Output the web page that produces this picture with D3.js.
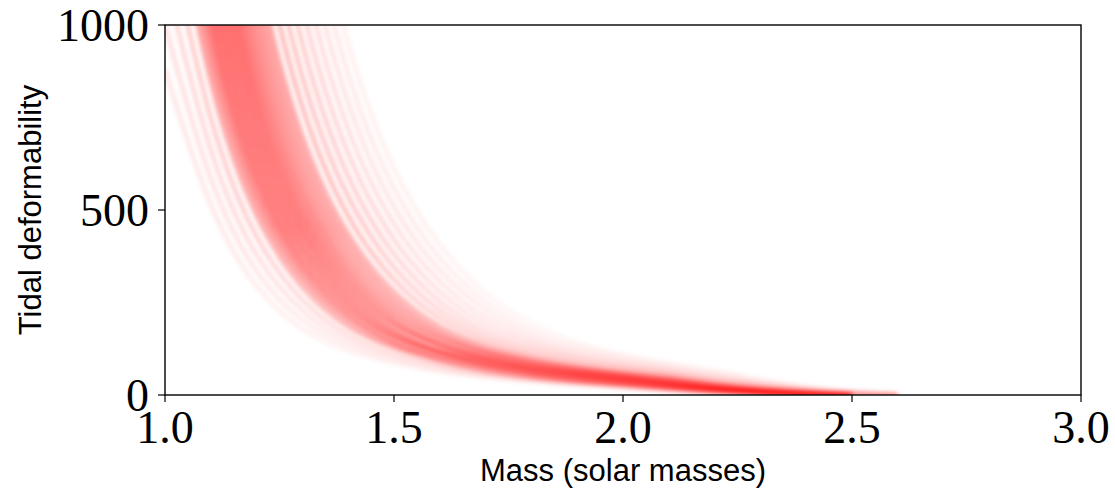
<!DOCTYPE html>
<html>
<head>
<meta charset="utf-8">
<title>tidal deformability</title>
<script src="https://cdnjs.cloudflare.com/ajax/libs/d3/7.8.5/d3.min.js"></script>
<style>
  body { margin: 0; background: #fff; }
  .tick-label { font-family: "Liberation Serif", "DejaVu Serif", serif; font-size: 46px; fill: #000; }
  .axis-title { font-family: "Liberation Sans", "DejaVu Sans", sans-serif; font-size: 31px; fill: #000; }
</style>
</head>
<body>
<svg width="1115" height="501"></svg>
<script>

var masses = [1.0, 1.1, 1.2, 1.3, 1.4, 1.5, 1.6, 1.7, 1.8, 1.9, 2.0, 2.1, 2.2, 2.3, 2.4, 2.5, 2.6];

// tidal deformability of each sampled curve, same order as masses (null = curve has ended)
var curves = [
  [880, 483, 279, 169, 117, 84.1, 61.7, 46.1, 35.0, 27.0, 19.2, 11.0, 5.5, 1.7, 0, null, null],
  [1000, 549, 317, 192, 129, 92.6, 68.0, 50.8, 38.6, 29.8, 21.8, 12.7, 6.4, 2.2, 0, null, null],
  [1133, 621, 359, 217, 142, 101.8, 74.7, 55.9, 42.4, 32.7, 24.8, 14.6, 7.6, 2.8, 0, null, null],
  [1280, 702, 406, 245, 155.7, 111.8, 82.0, 61.3, 46.6, 35.9, 28.0, 16.6, 8.9, 3.6, 0, null, null],
  [1444, 792, 458, 276, 173, 127, 96.8, 75.1, 59.0, 47.0, 37.9, 24.0, 13.4, 5.9, 0.5, 0, null],
  [1532, 840, 486, 293, 184, 124.4, 87.8, 63.3, 46.5, 34.7, 26.3, 16.0, 8.5, 3.6, 0.4, 0, null],
  [1624, 891, 515, 311, 195, 136.2, 102.6, 78.5, 61.1, 48.1, 38.4, 25.0, 14.1, 6.4, 1.0, 0, null],
  [1721, 944, 546, 330, 207, 136.6, 95.2, 67.8, 49.2, 36.3, 27.3, 17.1, 9.2, 4.0, 0.7, 0, null],
  [1823, 1000, 578, 349, 219, 149.0, 115.1, 90.3, 71.8, 57.9, 47.2, 32.5, 18.9, 9.1, 2.0, 0, null],
  [1930, 1059, 612, 370, 232, 152.0, 108.7, 79.3, 58.9, 44.5, 34.1, 22.5, 12.5, 5.8, 1.4, 0, null],
  [2042, 1120, 648, 391, 245, 159.7, 118.7, 89.8, 69.0, 53.8, 42.5, 29.5, 16.9, 8.2, 2.2, 0, null],
  [2160, 1185, 685, 414, 259, 168, 115.0, 80.9, 58.1, 42.4, 31.5, 21.0, 11.5, 5.4, 1.5, 0, null],
  [2283, 1253, 724, 437, 274, 178, 131.4, 101.9, 80.1, 63.8, 51.5, 37.6, 22.3, 11.4, 3.5, 0, null],
  [2412, 1323, 765, 462, 290, 188, 131.8, 97.3, 73.1, 55.8, 43.2, 30.9, 17.8, 8.9, 2.8, 0, null],
  [2547, 1397, 808, 488, 306, 198, 134.8, 96.0, 69.7, 51.5, 38.6, 27.3, 15.4, 7.6, 2.5, 0, null],
  [2689, 1475, 853, 515, 323, 209, 145.8, 111.7, 86.8, 68.5, 54.6, 41.6, 24.9, 13.1, 4.7, 0, null],
  [2837, 1556, 900, 543, 340, 221, 149.4, 109.0, 80.9, 61.1, 46.8, 34.8, 20.2, 10.3, 3.8, 0, null],
  [2992, 1641, 949, 573, 359, 233, 156.9, 118.7, 91.3, 71.2, 56.2, 43.7, 26.2, 14.0, 5.4, 0, null],
  [3154, 1730, 1000, 604, 379, 245, 163, 117.5, 86.3, 64.4, 48.9, 37.1, 21.5, 11.2, 4.3, 0, null],
  [3323, 1823, 1054, 636, 399, 258, 172, 126.9, 96.4, 74.3, 58.1, 46.0, 27.7, 14.9, 6.1, 0, null],
  [3500, 1920, 1110, 670, 420, 272, 181, 132.0, 100.3, 77.3, 60.5, 47.9, 29.4, 16.0, 6.7, 0.4, 0],
  [3878, 2127, 1230, 743, 465, 301, 201, 142.7, 108.4, 83.6, 65.4, 51.7, 33.0, 18.3, 8.1, 1.1, 0],
  [4289, 2353, 1360, 821, 515, 333, 222, 154.0, 117.0, 90.3, 70.6, 55.9, 37.0, 20.8, 9.6, 1.9, 0],
  [4736, 2598, 1502, 907, 568, 368, 245, 167, 126.2, 97.4, 76.1, 60.3, 41.3, 23.6, 11.3, 2.8, 0],
  [5222, 2865, 1656, 1000, 627, 406, 270, 185, 136.0, 104.9, 82.0, 64.9, 46.1, 26.8, 13.3, 3.9, 0],
  [5750, 3154, 1823, 1101, 690, 447, 298, 203, 146.3, 112.8, 88.2, 69.8, 51.2, 30.1, 15.4, 5.1, 0],
  [6321, 3468, 2004, 1210, 759, 491, 327, 224, 157.3, 121.3, 94.8, 75.1, 56.9, 33.8, 17.7, 6.4, 0],
  [6939, 3807, 2200, 1329, 833, 539, 359, 245, 171, 130.2, 101.8, 80.6, 63.0, 37.9, 20.3, 7.9, 0],
  [7608, 4174, 2413, 1457, 913, 591, 394, 269, 188, 139.7, 109.2, 86.5, 69.1, 42.3, 23.1, 9.6, 0]
];

var xTicks = [1.0, 1.5, 2.0, 2.5, 3.0];
var yTicks = [0, 500, 1000];

var svg = d3.select("svg");
var pLeft = 165, pRight = 1081, pTop = 25, pBottom = 395;

var x = d3.scaleLinear().domain([1, 3]).range([pLeft, pRight]);
var y = d3.scaleLinear().domain([0, 1000]).range([pBottom, pTop]);

// curves near the middle of the bundle (judged by their value at 1.4) are drawn stronger
var alphaScale = d3.scaleLinear()
  .domain([100, 150, 207, 290, 340, 420, 520, 700, 920])
  .range([0.07, 0.2, 0.6, 0.6, 0.48, 0.36, 0.26, 0.15, 0.07])
  .clamp(true);

var defs = svg.append("defs");
defs.append("clipPath").attr("id", "plot")
  .append("rect").attr("x", pLeft).attr("y", pTop)
  .attr("width", pRight - pLeft).attr("height", pBottom - pTop);

defs.append("filter").attr("id", "soft")
  .attr("x", "-5%").attr("y", "-5%").attr("width", "110%").attr("height", "110%")
  .append("feGaussianBlur").attr("stdDeviation", 2);

// lines thin out where the bundle gets squeezed against the axis
var fade = defs.append("linearGradient").attr("id", "fade")
  .attr("gradientUnits", "userSpaceOnUse")
  .attr("x1", 0).attr("x2", 0).attr("y1", pTop).attr("y2", pBottom);
[[0, 1], [0.55, 0.9], [0.8, 0.6], [1, 0.38]].forEach(function(s) {
  fade.append("stop").attr("offset", s[0])
    .attr("stop-color", "#ff0000").attr("stop-opacity", s[1]);
});

var line = d3.line()
  .defined(function(d) { return d != null; })
  .x(function(d, i) { return x(masses[i]); })
  .y(function(d) { return y(d); })
  .curve(d3.curveBasis);

svg.append("g")
  .attr("clip-path", "url(#plot)")
  .append("g")
  .attr("filter", "url(#soft)")
  .selectAll("path")
  .data(curves)
  .enter()
  .append("path")
  .attr("d", line)
  .style("fill", "none")
  .style("stroke", "url(#fade)")
  .style("stroke-opacity", function(d) { return alphaScale(d[4]); })
  .style("stroke-width", 4.2);

// frame
svg.append("rect")
  .attr("x", pLeft).attr("y", pTop)
  .attr("width", pRight - pLeft).attr("height", pBottom - pTop)
  .style("fill", "none").style("stroke", "#000").style("stroke-width", 1.4);

// x ticks
var xt = svg.append("g").selectAll("g").data(xTicks).enter().append("g");
xt.append("line")
  .attr("x1", function(d) { return x(d); }).attr("x2", function(d) { return x(d); })
  .attr("y1", pBottom).attr("y2", pBottom + 7)
  .style("stroke", "#000").style("stroke-width", 1.2);
xt.append("text")
  .attr("class", "tick-label")
  .attr("x", function(d) { return x(d); })
  .attr("y", 443)
  .attr("text-anchor", "middle")
  .text(d3.format(".1f"));

// y ticks
var yt = svg.append("g").selectAll("g").data(yTicks).enter().append("g");
yt.append("line")
  .attr("x1", pLeft - 7).attr("x2", pLeft)
  .attr("y1", function(d) { return y(d); }).attr("y2", function(d) { return y(d); })
  .style("stroke", "#000").style("stroke-width", 1.2);
yt.append("text")
  .attr("class", "tick-label")
  .attr("x", 149)
  .attr("y", function(d) { return y(d); })
  .attr("dy", "0.34em")
  .attr("text-anchor", "end")
  .text(d3.format("d"));

svg.append("text")
  .attr("class", "axis-title")
  .attr("x", (pLeft + pRight) / 2)
  .attr("y", 481)
  .attr("text-anchor", "middle")
  .text("Mass (solar masses)");

svg.append("text")
  .attr("class", "axis-title")
  .attr("transform", "translate(41," + (pTop + pBottom) / 2 + ") rotate(-90)")
  .attr("text-anchor", "middle")
  .text("Tidal deformability");

</script>
</body>
</html>
